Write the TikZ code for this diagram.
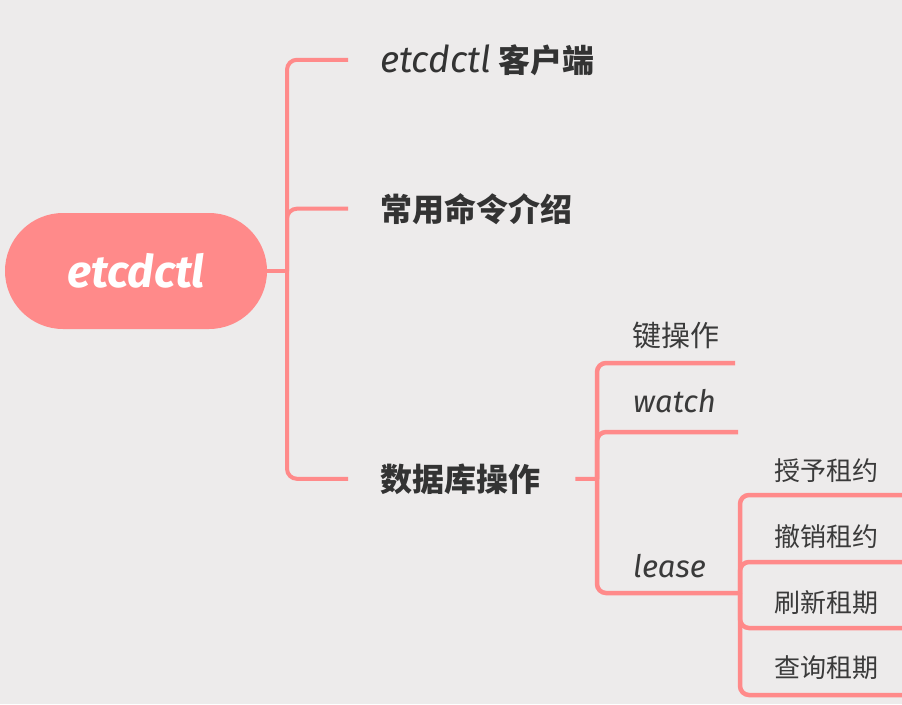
\documentclass[tikz,border=0pt]{standalone}
\usepackage{fontspec}
\setmainfont{Fira Sans}
\newfontfamily\cjk{Noto Sans CJK SC}
\definecolor{bgc}{HTML}{EDEBEB}
\definecolor{linec}{HTML}{FF8A8A}
\definecolor{txtc}{HTML}{333333}
\definecolor{subtxtc}{HTML}{3A3A3A}
\begin{document}
\begin{tikzpicture}[x=1pt,y=-1pt,
  conn/.style={draw=linec, line width=4pt, rounded corners=10pt},
  subconn/.style={draw=linec, line width=4.5pt, rounded corners=9pt},
  pill/.style={fill=linec, rounded corners=58pt, minimum width=262pt, minimum height=116pt, inner sep=0pt, text=white, font=\bfseries\itshape\fontsize{45}{50}\selectfont},
  maintopic/.style={anchor=base west, inner sep=0pt, text=txtc, font=\cjk\bfseries\fontsize{32}{36}\selectfont},
  subtopic/.style={anchor=base west, inner sep=0pt, text=subtxtc, font=\cjk\fontsize{26}{30}\selectfont},
  sublatin/.style={anchor=base west, inner sep=0pt, text=subtxtc, font=\itshape\fontsize{31}{34}\selectfont}]
\fill[bgc] (0,0) rectangle (902,704);
\useasboundingbox (0,0) rectangle (902,704);

% root
\node[pill] (root) at (136,271) {etcdctl};

% main topics
\node[maintopic] (t1) at (380,72) {{\rmfamily\mdseries\itshape\fontsize{37}{40}\selectfont etcdctl} 客户端};
\node[maintopic] (t2) at (380,221) {常用命令介绍};
\node[maintopic] (t3) at (380,491) {数据库操作};

\coordinate (j0) at (287,271);
\draw[conn] (root.east) -- (j0);
\draw[conn] (j0) |- ([xshift=-32pt]t1.west);
\draw[conn] (j0) |- ([xshift=-32pt]t2.west);
\draw[conn] (j0) |- ([xshift=-32pt]t3.west);

% sub topics of 数据库操作
\node[subtopic, font=\cjk\fontsize{29}{32}\selectfont] (s1) at (632,346) {键操作};
\node[sublatin] (s2) at (633,412) {watch};
\node[sublatin] (s3) at (633,577) {lease};

\coordinate (j1) at (597,479);
\coordinate (u1) at (735,363);
\coordinate (u2) at (738,432);
\coordinate (j2) at (740,593);
\draw[conn] ([xshift=35pt]t3.east) -- (j1);
\draw[subconn] (j1) |- (u1);
\draw[subconn] (j1) |- (u2);
\draw[subconn] (j1) |- (j2);

% lease children
\node[subtopic] (l1) at (774,480) {授予租约};
\node[subtopic] (l2) at (774,546) {撤销租约};
\node[subtopic] (l3) at (774,612) {刷新租期};
\node[subtopic] (l4) at (774,677) {查询租期};

\coordinate (v1) at (905,495);
\coordinate (v2) at (905,562);
\coordinate (v3) at (905,628);
\coordinate (v4) at (905,695);
\draw[subconn] (j2) |- (v1);
\draw[subconn] (j2) |- (v2);
\draw[subconn] (j2) |- (v3);
\draw[subconn] (j2) |- (v4);
\end{tikzpicture}
\end{document}
